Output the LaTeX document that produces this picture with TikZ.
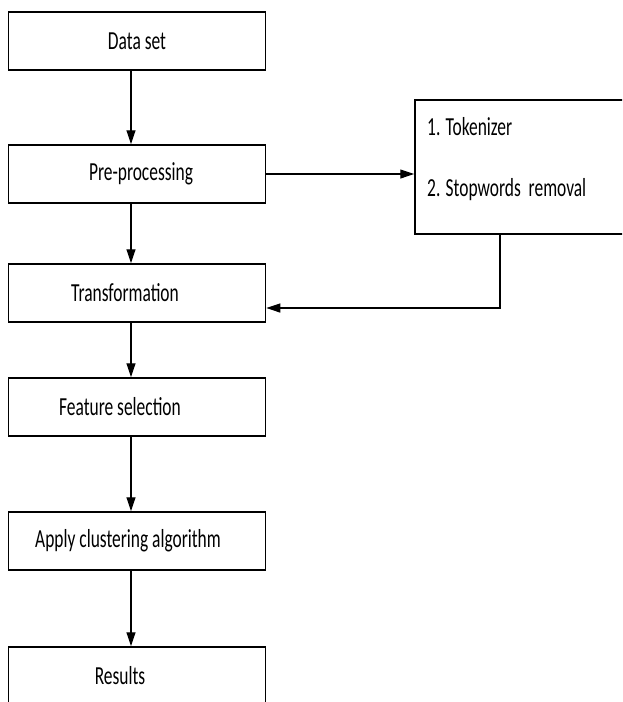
\documentclass[tikz,border=0pt]{standalone}
\usepackage{fontspec}
\setmainfont[FakeStretch=0.67]{Carlito}
\usetikzlibrary{arrows.meta}

\begin{document}
\begin{tikzpicture}[x=1pt,y=-1pt,
		box/.style={draw,line width=1.5pt,minimum width=257pt,minimum height=58pt,inner sep=0pt,font=\fontsize{26}{30}\selectfont},
		item/.style={anchor=west,inner sep=0pt,font=\fontsize{26}{30}\selectfont},
		flow/.style={line width=1.2pt,-{Triangle[length=14pt,width=9pt]}}]
		\clip (0,0) rectangle (622,702);
		\node[box] (data) at (137,41) {Data set};
		\node[box] (pre) at (137,174) {\hspace*{8pt}Pre-processing};
		\node[box] (trans) at (137,293) {\hspace*{-24pt}Transformation};
		\node[box] (feat) at (137,407) {\hspace*{-34pt}Feature selection};
		\node[box] (clust) at (137,541) {\hspace*{-18pt}Apply clustering algorithm};
		\node[box] (res) at (137,676) {\hspace*{-34pt}Results};
		\node[box,minimum width=216pt,minimum height=134pt] (tok) at (523,167) {};
		\node[item] (t1) at (427,127) {1. Tokenizer};
		\node[item] (t2) at (427,190) {2. Stopwords\ \ removal};
		\foreach \a/\b in {data/pre,pre/trans,trans/feat,feat/clust,clust/res}
			\draw[flow] ([xshift=-6pt]\a.south) -- ([xshift=-6pt]\b.north);
		\draw[flow] (pre.east) -- (pre.east -| tok.west);
		\draw[flow] ([xshift=-23pt]tok.south) |- ([yshift=-15pt]trans.east);
		\end{tikzpicture}
\end{document}
